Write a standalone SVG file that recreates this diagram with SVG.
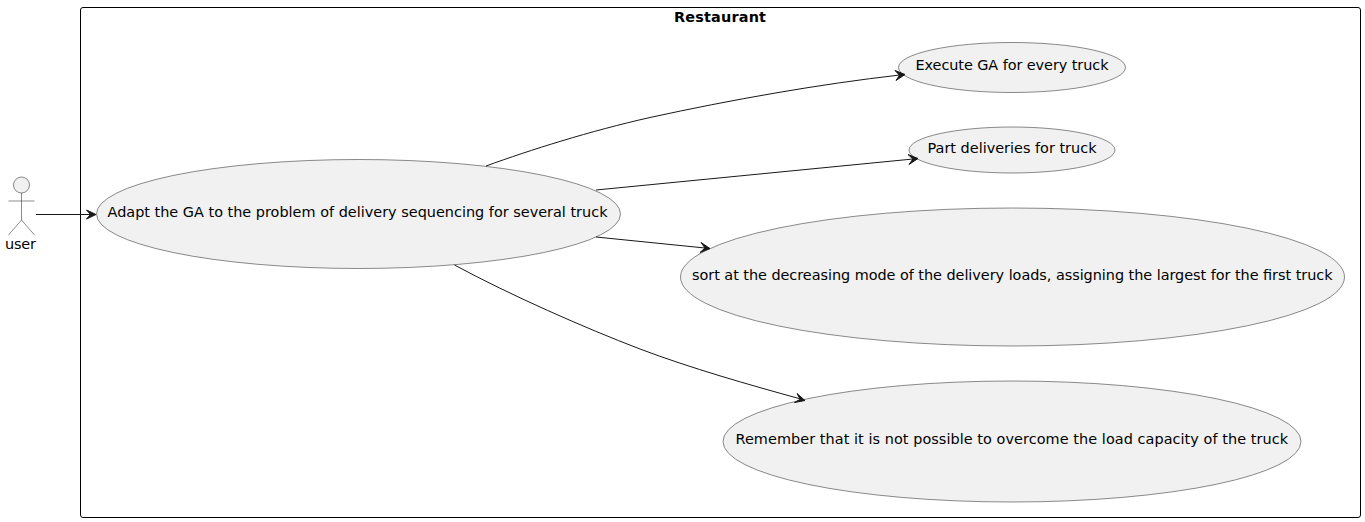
<svg xmlns="http://www.w3.org/2000/svg" width="1365" height="522" viewBox="0 0 1365 522">
<style>
text{font-family:"DejaVu Sans",sans-serif;font-size:14.43px;fill:#000}
.uc{fill:#F1F1F1;stroke:#181818;stroke-width:.5}
.ln{fill:none;stroke:#181818;stroke-width:1}
.ah{fill:#181818;stroke:#181818;stroke-width:1}
.thin{fill:none;stroke:#181818;stroke-width:.5}
</style>
<rect width="1365" height="522" fill="#fff"/>
<g id="restaurant"><rect x="80.5" y="7.500" width="1280" height="510" rx="2.500" fill="none" stroke="#000" stroke-width="1"/>
<text x="674" y="21.500" textLength="92" style="font-weight:700">Restaurant</text></g>
<g id="user"><circle cx="21.500" cy="185" r="8" fill="#F1F1F1" stroke="#181818" stroke-width=".5"/>
<path d="M21.500 193V220M8.500 201H34.500M21.500 220L8.500 235M21.500 220L34.500 235" class="thin"/>
<text x="5" y="249" textLength="31">user</text></g>
<g id="adapt"><ellipse class="uc" cx="358.500" cy="214" rx="262" ry="54.500"/><text x="107.500" y="217" textLength="500">Adapt the GA to the problem of delivery sequencing for several truck</text></g>
<g id="execute"><ellipse class="uc" cx="1012" cy="67.500" rx="113.500" ry="25"/><text x="915.500" y="70" textLength="193">Execute GA for every truck</text></g>
<g id="part"><ellipse class="uc" cx="1012" cy="150" rx="103" ry="23"/><text x="927.500" y="153" textLength="169">Part deliveries for truck</text></g>
<g id="sort"><ellipse class="uc" cx="1012.500" cy="277" rx="332" ry="69"/><text x="692" y="280" textLength="640.500">sort at the decreasing mode of the delivery loads, assigning the largest for the first truck</text></g>
<g id="remember"><ellipse class="uc" cx="1012" cy="441.500" rx="289" ry="60.500"/><text x="735.500" y="444" textLength="552.500">Remember that it is not possible to overcome the load capacity of the truck</text></g>
<g id="connectors">
<path class="ln" d="M36 214.500H91"/><path class="ah" d="M96 214.500L86.500 210L90.500 214.500L86.500 219Z"/>
<path class="ln" d="M486 166C530 150 590 131 650 117.500C730 100 820 84 900 75"/><path class="ah" d="M905 74.500L895 70.500L899.500 75.300L896 80.500Z"/>
<path class="ln" d="M596 190L913 159"/><path class="ah" d="M918 158.500L908 154.500L912.900 159L909 164.500Z"/>
<path class="ln" d="M596 237L705 248"/><path class="ah" d="M710 248.500L701 242.500L705 248L700 252.500Z"/>
<path class="ln" d="M454.500 265C510 295 585 328 640 349C690 368 750 385 800 398.800"/><path class="ah" d="M805 400.500L797 393.500L800.200 399.300L794.500 402.500Z"/>
</g>
</svg>
